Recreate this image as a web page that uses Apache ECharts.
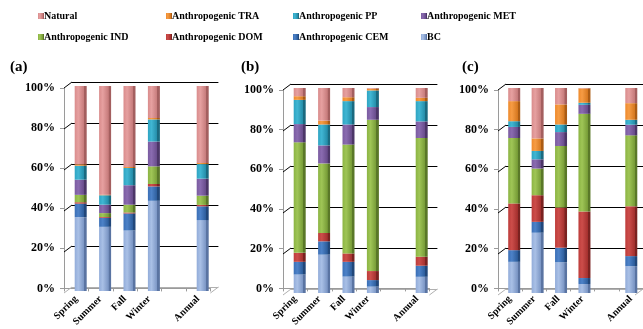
<!DOCTYPE html>
<html>
<head>
<meta charset="utf-8">
<script src="https://cdn.jsdelivr.net/npm/echarts@6/dist/echarts.min.js"></script>
<style>
  html, body { margin: 0; padding: 0; background: #fff; }
  #chart { width: 643px; height: 329px; }
</style>
</head>
<body>
<div id="chart"></div>
<script>
// Seasonal / annual source contributions (percent), stacked bottom to top
const categories = ['Spring', 'Summer', 'Fall', 'Winter', '', 'Annual'];
const sourceNames = ['BC', 'Anthropogenic CEM', 'Anthropogenic DOM', 'Anthropogenic IND',
  'Anthropogenic MET', 'Anthropogenic PP', 'Anthropogenic TRA', 'Natural'];
const panelTitles = ['(a)', '(b)', '(c)'];
const yTicks = [0, 20, 40, 60, 80, 100];

// panel (a)
const aBC  = [36.0, 31.3, 29.5, 44.0, null, 34.6];
const aCEM = [6.6, 4.4, 8.3, 7.0, null, 6.7];
const aDOM = [0.7, 0.4, 0.5, 1.2, null, 0.7];
const aIND = [3.6, 1.9, 3.8, 8.6, null, 4.5];
const aMET = [7.4, 4.1, 9.5, 12.1, null, 8.3];
const aPP  = [6.8, 4.6, 8.4, 10.8, null, 7.1];
const aTRA = [0.7, 0.3, 0.5, 0.7, null, 0.6];
const aNAT = [38.2, 53.0, 39.5, 15.6, null, 37.5];

// panel (b)
const bBC  = [9.0, 18.7, 8.0, 3.1, null, 7.9];
const bCEM = [6.2, 6.5, 7.2, 3.2, null, 5.4];
const bDOM = [4.4, 4.1, 4.1, 4.4, null, 4.4];
const bIND = [53.9, 33.9, 53.1, 73.8, null, 57.9];
const bMET = [8.9, 8.8, 9.8, 6.2, null, 8.1];
const bPP  = [11.8, 10.2, 11.4, 8.1, null, 9.9];
const bTRA = [1.8, 1.9, 1.9, 0.9, null, 1.6];
const bNAT = [4.0, 15.9, 4.5, 0.3, null, 4.8];

// panel (c)
const cBC  = [15.2, 29.4, 15.0, 4.4, null, 13.1];
const cCEM = [5.7, 5.3, 7.1, 2.9, null, 4.9];
const cDOM = [22.8, 13.0, 19.6, 32.4, null, 24.3];
const cIND = [31.9, 13.0, 30.0, 47.7, null, 34.6];
const cMET = [5.4, 4.5, 6.8, 4.4, null, 5.2];
const cPP  = [2.8, 4.1, 3.7, 1.0, null, 2.4];
const cTRA = [9.8, 6.1, 9.8, 7.0, null, 8.1];
const cNAT = [6.4, 24.6, 8.0, 0.2, null, 7.4];

const panelData = [
  [aBC, aCEM, aDOM, aIND, aMET, aPP, aTRA, aNAT],
  [bBC, bCEM, bDOM, bIND, bMET, bPP, bTRA, bNAT],
  [cBC, cCEM, cDOM, cIND, cMET, cPP, cTRA, cNAT]
];

// legend columns (top row, bottom row)
const legendColumns = [
  ['Natural', 'Anthropogenic IND'],
  ['Anthropogenic TRA', 'Anthropogenic DOM'],
  ['Anthropogenic PP', 'Anthropogenic CEM'],
  ['Anthropogenic MET', 'BC']
];

// ---- styling / layout ----
const FONT = '"Liberation Serif", "Times New Roman", serif';
const shades = {
  'BC':                ['#a9c0e6', '#92acd9', '#7a95c4', '#5a74a2'],
  'Anthropogenic CEM': ['#4d82c8', '#3a6fb6', '#2c5c9a', '#21477a'],
  'Anthropogenic DOM': ['#cc4d4a', '#bd3c3a', '#a4302e', '#7a2220'],
  'Anthropogenic IND': ['#9fc556', '#8bb443', '#779c37', '#5a7828'],
  'Anthropogenic MET': ['#8a6bb0', '#7a5ba0', '#674b8a', '#4c3668'],
  'Anthropogenic PP':  ['#40b6d3', '#2ea4c2', '#248ca8', '#1a6a80'],
  'Anthropogenic TRA': ['#f69c44', '#ee8a2c', '#d67820', '#ab5c14'],
  'Natural':           ['#e6a0a0', '#d98c8c', '#c67b7b', '#a45f5f']
};
function barFill(name) {
  const s = shades[name];
  return new echarts.graphic.LinearGradient(0, 0, 1, 0, [
    { offset: 0, color: s[1] },
    { offset: 0.3, color: s[0] },
    { offset: 0.78, color: s[2] },
    { offset: 0.8, color: s[3] },
    { offset: 1, color: s[3] }
  ]);
}

const layout = [
  { fx: 64, fy: 88 },
  { fx: 283, fy: 90 },
  { fx: 498, fy: 90 }
];
const PW = 146.4, PH = 205;
const DEPTH_X = 8, DEPTH_Y = -6;

const grid = [], xAxis = [], yAxis = [], series = [], title = [];
layout.forEach((L, p) => {
  const base = grid.length;
  // front frame (axes + labels)
  grid.push({ left: L.fx, top: L.fy, width: PW, height: PH });
  // back wall (gridlines)
  grid.push({ left: L.fx + DEPTH_X, top: L.fy + DEPTH_Y, width: PW, height: PH });
  // columns sit midway in depth
  grid.push({ left: L.fx + DEPTH_X / 2 + 0.5, top: L.fy + DEPTH_Y / 2 + 1, width: PW, height: PH });

  xAxis.push({
    gridIndex: base, type: 'category', data: categories, boundaryGap: true,
    axisLine: { lineStyle: { color: '#9a9a9a', width: 1 } },
    axisTick: { show: true, length: 3, lineStyle: { color: '#9a9a9a' } },
    axisLabel: { rotate: 45, margin: 9, interval: 0, fontFamily: FONT, fontWeight: 'bold', fontSize: 10, color: '#000' }
  });
  yAxis.push({
    gridIndex: base, type: 'value', min: 0, max: 100, interval: 20,
    axisLine: { show: true, lineStyle: { color: '#9a9a9a' } },
    axisTick: { show: true, length: 4, lineStyle: { color: '#9a9a9a' } },
    splitLine: { show: false },
    axisLabel: { formatter: '{value}%', margin: 9, fontFamily: FONT, fontWeight: 'bold', fontSize: 12, color: '#000' }
  });
  xAxis.push({ gridIndex: base + 1, type: 'value', min: 0, max: 6, show: false });
  yAxis.push({
    gridIndex: base + 1, type: 'value', min: 0, max: 100, interval: 20,
    axisLine: { show: false }, axisTick: { show: false }, axisLabel: { show: false },
    splitLine: { show: true, lineStyle: { color: ['#b0b0b0', '#000', '#000', '#000', '#000', '#000'], width: 1 } }
  });
  xAxis.push({ gridIndex: base + 2, type: 'category', data: categories, show: false });
  yAxis.push({ gridIndex: base + 2, type: 'value', min: 0, max: 100, show: false, splitLine: { show: false } });

  // side-wall connectors from the front axis to the back wall
  const connectors = yTicks.map(v => [0, v]).concat([[6, 0]]);
  series.push({
    type: 'custom', xAxisIndex: base + 1, yAxisIndex: base + 1, silent: true,
    data: connectors,
    renderItem: (params, api) => {
      const pt = api.coord([api.value(0), api.value(1)]);
      const floor = api.value(1) === 0;
      return {
        type: 'line',
        shape: { x1: pt[0] - DEPTH_X, y1: pt[1] - DEPTH_Y, x2: pt[0], y2: pt[1] },
        style: { stroke: floor ? '#b0b0b0' : '#000', lineWidth: 1 }
      };
    }
  });

  panelData[p].forEach((vals, k) => {
    const name = sourceNames[k];
    series.push({
      name, type: 'bar', stack: 'p' + p,
      xAxisIndex: base + 2, yAxisIndex: base + 2,
      barWidth: 12, data: vals,
      itemStyle: { color: barFill(name) },
      emphasis: { disabled: true }
    });
  });

  title.push({
    text: panelTitles[p], left: [10, 241, 462][p], top: 60, padding: 0,
    textStyle: { fontFamily: FONT, fontWeight: 'bold', fontSize: 15, color: '#000' }
  });
});

const legend = legendColumns.map((names, i) => ({
  orient: 'vertical', left: [38, 166, 293, 421][i], top: 10, padding: 0,
  itemWidth: 6, itemHeight: 6, itemGap: 9, selectedMode: false,
  icon: 'rect',
  data: names,
  textStyle: { fontFamily: FONT, fontWeight: 'bold', fontSize: 10, color: '#000', lineHeight: 12, padding: [0, 0, 0, -5] }
}));

const chart = echarts.init(document.getElementById('chart'), null, { renderer: 'canvas' });
chart.setOption({
  animation: false,
  backgroundColor: '#fff',
  title, legend, grid, xAxis, yAxis, series
});
</script>
</body>
</html>
